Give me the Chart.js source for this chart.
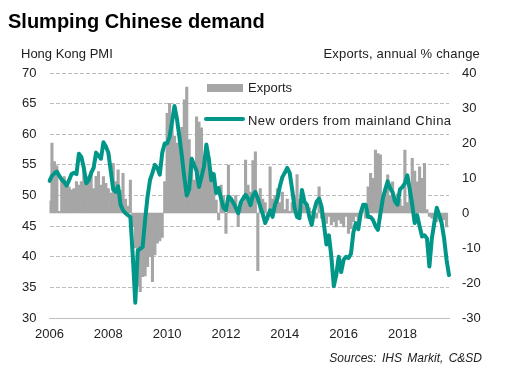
<!DOCTYPE html>
<html>
<head>
<meta charset="utf-8">
<script src="https://cdn.jsdelivr.net/npm/chart.js@4.4.1/dist/chart.umd.min.js"></script>
<style>
    body { margin: 0; background: #fff; font-family: "Liberation Sans", Arial, sans-serif; }
    #wrap { position: relative; width: 506px; height: 371px; }
    #chartBox { position: absolute; left: 0; top: 0; width: 506px; height: 371px; }
    .txt { position: absolute; line-height: 1; white-space: nowrap; color: #000; }
    #title { left: 8px; top: 11px; font-size: 20px; font-weight: bold; }
    #leftTitle { left: 21px; top: 47px; font-size: 13px; color: #222; }
    #rightTitle { right: 26px; top: 47px; font-size: 13px; color: #222; letter-spacing: 0.2px; }
    #source { right: 24px; top: 352px; font-size: 12px; font-style: italic; color: #222; word-spacing: 2px; }
    .swatch { position: absolute; }
    #swBar { left: 207px; top: 84px; width: 36px; height: 8px; background: #a6a6a6; }
    #swLine { left: 204px; top: 117px; width: 41px; height: 4px; background: #009688; border-radius: 2px; }
    #lgBar { left: 248px; top: 81px; font-size: 13px; color: #222; }
    #lgLine { left: 248px; top: 114px; font-size: 13px; color: #222; letter-spacing: 0.45px; }
</style>
</head>
<body>
<div id="wrap">
    <div id="chartBox"><canvas id="pmiChart"></canvas></div>
    <div class="txt" id="title">Slumping Chinese demand</div>
    <div class="txt" id="leftTitle">Hong Kong PMI</div>
    <div class="txt" id="rightTitle">Exports, annual % change</div>
    <div class="swatch" id="swBar"></div>
    <div class="txt" id="lgBar">Exports</div>
    <div class="swatch" id="swLine"></div>
    <div class="txt" id="lgLine">New orders from mainland China</div>
    <div class="txt" id="source">Sources:  IHS Markit, C&amp;SD</div>
</div>
<script>
// Monthly data, Jan 2006 - Aug 2019
const years = [2006, 2007, 2008, 2009, 2010, 2011, 2012, 2013, 2014, 2015, 2016, 2017, 2018, 2019];
const lastMonth2019 = 8;

// New orders from mainland China (PMI, left axis)
const newOrders = [
    52.4, 53.2, 53.6, 53.9, 53.2, 52.6, 52.2, 51.6, 52.5, 53.5, 53.7, 53.5,
    56.8, 56.3, 54.5, 52.0, 52.5, 53.7, 54.5, 57.0, 56.5, 56.0, 58.7, 58.0,
    57.0, 54.0, 51.0, 50.6, 51.5, 48.5, 47.6, 47.1, 46.8, 46.5, 40.0, 32.5,
    41.0, 41.3, 41.6, 46.0, 49.8, 52.5, 53.7, 55.0, 54.5, 53.4, 57.0, 58.5,
    58.5, 59.6, 62.0, 64.6, 62.5, 59.6, 56.5, 53.0, 50.0, 51.0, 56.0, 55.0,
    54.0, 51.4, 53.0, 54.7, 58.3, 56.0, 52.5, 53.5, 50.4, 51.2, 49.5, 48.0,
    47.6, 49.8, 49.5, 48.8, 48.0, 47.1, 48.8, 49.5, 50.1, 49.5, 48.4, 50.0,
    50.6, 49.5, 48.2, 47.0, 45.5, 46.5, 47.6, 46.5, 48.5, 49.5, 51.5, 53.0,
    53.7, 54.5, 53.7, 51.0, 48.0, 46.5, 46.3, 50.9, 49.0, 48.5, 46.5, 45.2,
    47.6, 49.0, 49.5, 48.2, 45.2, 42.0, 43.5, 40.0, 35.2, 37.0, 40.0, 37.5,
    39.5, 40.0, 39.8, 40.5, 44.0, 45.5, 44.5, 47.2, 48.5, 48.5, 46.5, 46.5,
    46.0, 45.0, 44.4, 47.0, 49.5, 51.0, 52.3, 51.2, 50.5, 49.0, 48.5, 51.0,
    51.4, 52.0, 53.3, 51.0, 48.5, 45.5, 46.8, 45.0, 43.3, 43.5, 43.0, 38.4,
    43.0, 45.5, 48.0, 46.8, 45.5, 43.0, 39.5, 37.0
];

// Exports, annual % change (right axis)
const exportsGrowth = [
    3.5, 20.0, 14.7, 13.5, 0.5, 9.5, 10.4, 8.0, 7.5, 6.6, 7.0, 9.0,
    8.0, 9.0, 13.2, 10.5, 9.4, 12.0, 7.0, 10.5, 11.8, 8.0, 10.4, 8.5,
    7.0, 5.7, 14.2, 9.0, 12.3, 6.5, 11.3, 4.0, 2.0, 9.4, -3.9, -10.0,
    -21.0, -22.5, -18.2, -18.0, -15.3, -12.5, -19.6, -12.0, -8.6, -8.0, -7.0, 9.0,
    28.5, 31.3, 25.0, 22.0, 20.0, 23.0, 24.5, 32.3, 36.0, 21.0, 15.0, 9.4,
    27.5, 26.0, 24.3, 14.2, 20.0, 16.0, 12.0, 9.0, 3.7, -2.0, 8.0, 5.0,
    -5.8, 13.7, 4.0, 2.0, 5.0, -3.9, 1.5, 3.0, 15.1, 8.0, 6.0, 15.0,
    17.5, -16.5, 7.0, 4.0, 3.0, -2.0, 13.2, 4.0, 5.0, 7.0, 3.0, 6.0,
    1.0, 4.0, 0.5, 3.0, 5.0, 11.0, 4.0, 2.0, 3.7, 2.0, 1.5, 0.5,
    1.0, -1.5, 7.5, -1.5, -2.0, -3.0, -1.0, -3.4, -2.5, -4.0, -2.0, -3.0,
    -4.0, -1.0, -5.8, -4.5, -2.5, -1.0, -2.5, -1.0, 1.0, -1.5, 7.5, 11.3,
    9.9, 18.0, 17.0, 16.6, 3.0, 7.0, 10.9, 5.0, 8.9, 3.0, 5.5, 4.0,
    2.0, 18.0, 3.0, 6.0, 15.6, 12.0, 8.9, 13.2, 9.9, 14.2, 1.0, -1.0,
    -1.5, -3.0, -2.5, -1.5, -2.5, -2.0, -4.0, null
];

const pmiTicks = { min: 30, max: 70, step: 5 };
const exportTicks = { min: -30, max: 40, step: 10 };

// Build month labels like "2006-01"
const monthLabels = [];
years.forEach(y => {
    const n = y === 2019 ? lastMonth2019 : 12;
    for (let m = 1; m <= n; m++) {
        monthLabels.push(y + '-' + String(m).padStart(2, '0'));
    }
});

const tickFont = { family: '"Liberation Sans", Arial, sans-serif', size: 13 };
const tickColor = '#222';

const ctx = document.getElementById('pmiChart');
new Chart(ctx, {
    type: 'bar',
    data: {
        labels: monthLabels,
        datasets: [
            {
                type: 'line',
                label: 'New orders from mainland China',
                data: newOrders,
                yAxisID: 'y',
                borderColor: '#009688',
                borderWidth: 4,
                pointRadius: 0,
                tension: 0,
                borderJoinStyle: 'round',
                borderCapStyle: 'round',
                order: 0
            },
            {
                type: 'bar',
                label: 'Exports',
                data: exportsGrowth,
                yAxisID: 'y1',
                backgroundColor: '#a6a6a6',
                borderWidth: 0,
                barPercentage: 1,
                categoryPercentage: 1,
                order: 1
            }
        ]
    },
    options: {
        responsive: true,
        maintainAspectRatio: false,
        animation: false,
        layout: { padding: { top: 73, left: 0, right: 0, bottom: 0 } },
        plugins: {
            legend: { display: false },
            tooltip: { enabled: false }
        },
        scales: {
            x: {
                type: 'category',
                offset: false,
                grid: { display: true, drawOnChartArea: false, drawTicks: false },
                border: { display: true, color: '#bfbfbf', width: 1 },
                ticks: {
                    autoSkip: false,
                    maxRotation: 0,
                    padding: 9,
                    font: tickFont,
                    color: tickColor,
                    callback: function(value) {
                        const lab = this.getLabelForValue(value);
                        const [y, m] = lab.split('-');
                        return (m === '01' && Number(y) % 2 === 0) ? y : '';
                    }
                },
                afterFit: s => { s.height = 53; }
            },
            y: {
                position: 'left',
                min: pmiTicks.min,
                max: pmiTicks.max,
                grid: { display: true, drawOnChartArea: true, color: '#bdbdbd', lineWidth: 1, drawTicks: false },
                border: { display: false, dash: [4, 2] },
                ticks: { stepSize: pmiTicks.step, padding: 13, font: tickFont, color: tickColor },
                afterFit: s => { s.width = 49.5; }
            },
            y1: {
                position: 'right',
                min: exportTicks.min,
                max: exportTicks.max,
                grid: { display: false, drawTicks: false },
                border: { display: false },
                ticks: { stepSize: exportTicks.step, padding: 13, font: tickFont, color: tickColor },
                afterFit: s => { s.width = 57; }
            }
        }
    }
});
</script>
</body>
</html>
